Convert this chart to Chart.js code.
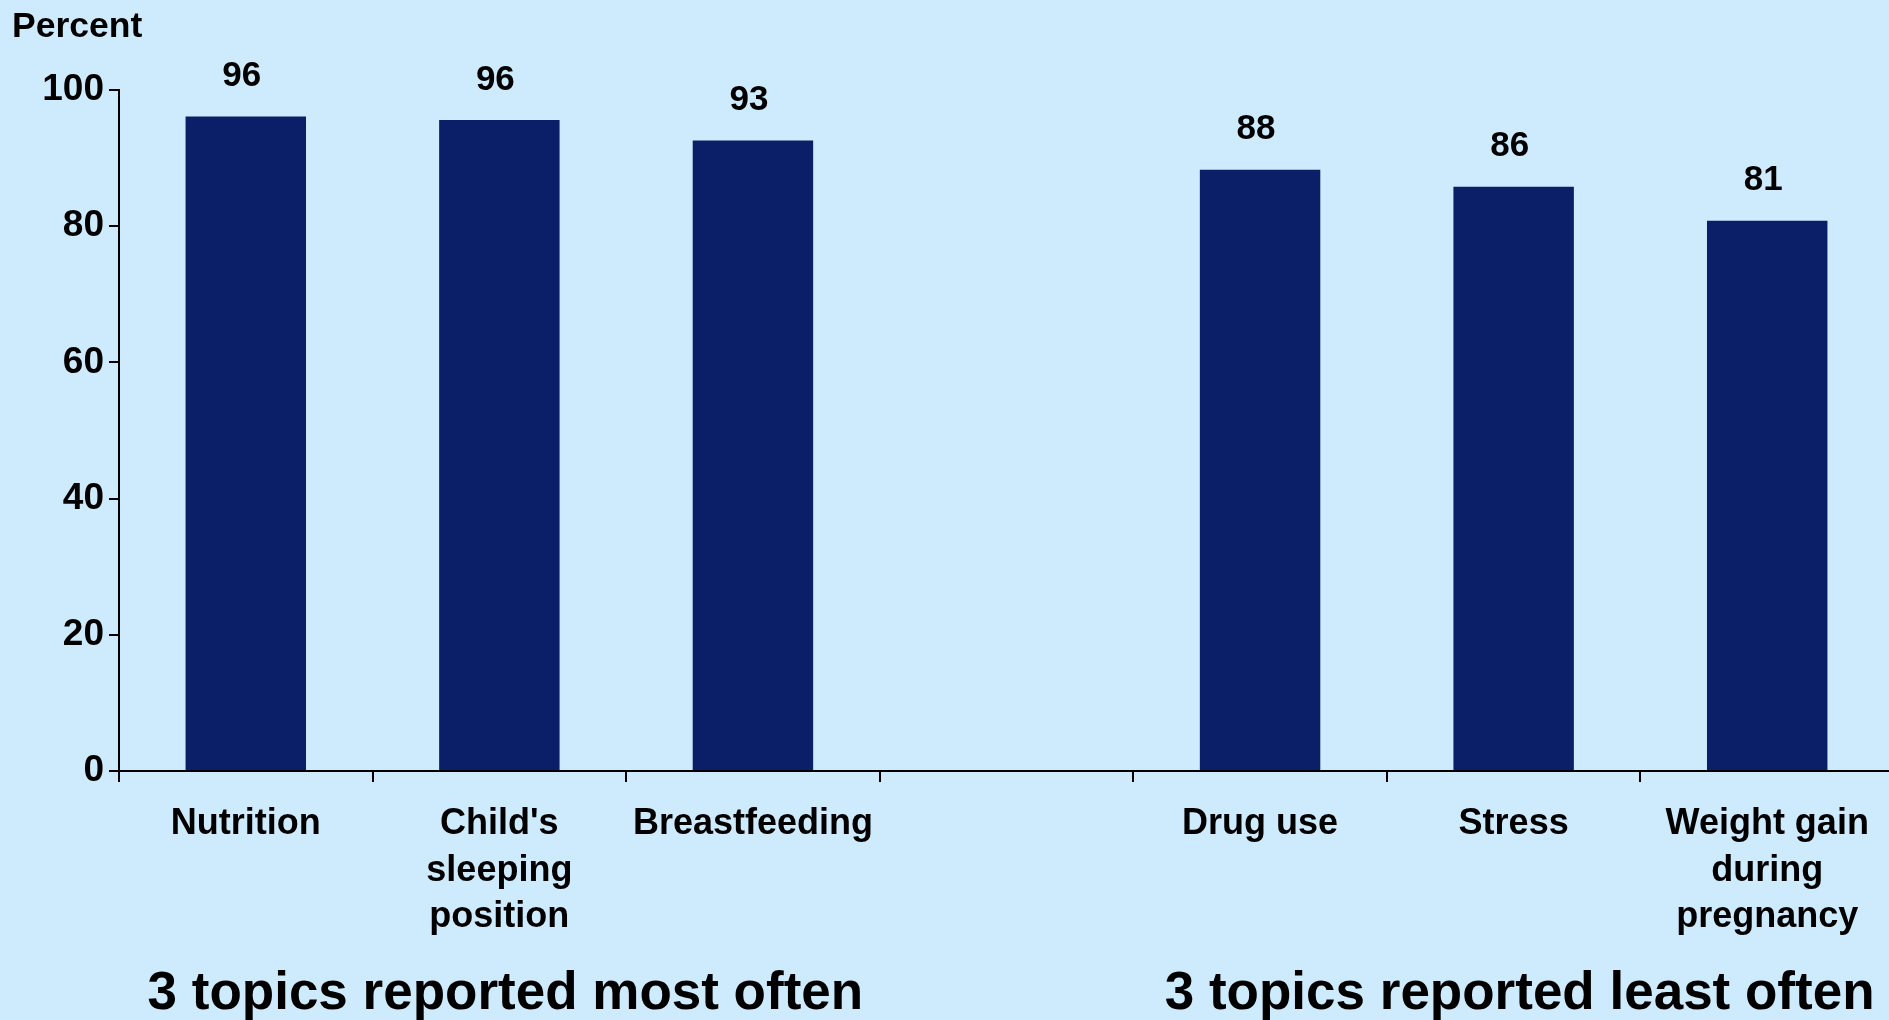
<!DOCTYPE html>
<html>
<head>
<meta charset="utf-8">
<script src="https://cdn.jsdelivr.net/npm/chart.js@4.4.1/dist/chart.umd.min.js"></script>
<style>
  html, body { margin: 0; padding: 0; background: #cdebfd; overflow: hidden; }
  #wrap { position: absolute; left: 0; top: 0; width: 1900px; height: 1020px; }
</style>
</head>
<body>
<div id="wrap"><canvas id="c" width="1900" height="1020"></canvas></div>
<script>
// Topics discussed during prenatal care (percent of women reporting)
const categories = [
  'Nutrition',
  ["Child's", 'sleeping', 'position'],
  'Breastfeeding',
  '',
  'Drug use',
  'Stress',
  ['Weight gain', 'during', 'pregnancy']
];
const percentValues = [96.1, 95.6, 92.6, null, 88.3, 85.8, 80.8];
const yTicks = [0, 20, 40, 60, 80, 100];
const groupTitles = ['3 topics reported most often', '3 topics reported least often'];
const groupAnchors = [1, 5]; // category index each group title is centred under

const FONT = '"Liberation Sans", Arial, Helvetica, sans-serif';
const BAR = '#0a1f68';
const INK = '#000000';

const textPlugin = {
  id: 'annotations',
  afterDatasetsDraw(chart) {
    const ctx = chart.ctx;
    const meta = chart.getDatasetMeta(0);
    ctx.save();
    ctx.fillStyle = INK;
    ctx.textAlign = 'center';
    ctx.textBaseline = 'middle';
    ctx.font = 'bold 35px ' + FONT;
    meta.data.forEach((bar, i) => {
      const v = percentValues[i];
      if (v === null) return;
      ctx.fillText(String(Math.round(v)), bar.x - 4, bar.y - 40);
    });
    ctx.restore();
  },
  afterDraw(chart) {
    const ctx = chart.ctx;
    const xs = chart.scales.x;
    ctx.save();
    ctx.fillStyle = INK;
    ctx.font = 'bold 35.5px ' + FONT;
    ctx.textAlign = 'left';
    ctx.textBaseline = 'middle';
    ctx.fillText('Percent', 12, 27);
    ctx.font = 'bold 53px ' + FONT;
    ctx.textAlign = 'center';
    groupTitles.forEach((t, i) => {
      ctx.fillText(t, xs.getPixelForValue(groupAnchors[i]) + 6, 994);
    });
    ctx.restore();
  }
};

new Chart(document.getElementById('c'), {
  type: 'bar',
  data: {
    labels: categories,
    datasets: [{
      data: percentValues,
      backgroundColor: BAR,
      borderWidth: 0,
      categoryPercentage: 1,
      barPercentage: 0.475
    }]
  },
  options: {
    responsive: false,
    animation: false,
    layout: { padding: { left: 0, right: 6, top: 90, bottom: 0 } },
    plugins: { legend: { display: false }, tooltip: { enabled: false } },
    scales: {
      x: {
        offset: true,
        grid: {
          offset: true,
          drawOnChartArea: false,
          drawTicks: true,
          tickLength: 11,
          color: INK,
          lineWidth: 2
        },
        border: { display: true, color: INK, width: 2 },
        ticks: {
          color: INK,
          font: { family: FONT, size: 36, weight: 'bold', lineHeight: 1.289 },
          padding: 19,
          maxRotation: 0,
          autoSkip: false
        },
        afterFit(s) { s.height = 249; }
      },
      y: {
        min: 0,
        max: 100,
        afterBuildTicks(s) { s.ticks = yTicks.map(v => ({ value: v })); },
        grid: {
          drawOnChartArea: false,
          drawTicks: true,
          tickLength: 10,
          color: INK,
          lineWidth: 2
        },
        border: { display: true, color: INK, width: 2 },
        ticks: {
          color: INK,
          font: { family: FONT, size: 37, weight: 'bold' },
          padding: 5
        },
        afterFit(s) { s.width = 119; }
      }
    }
  },
  plugins: [textPlugin]
});
</script>
</body>
</html>
